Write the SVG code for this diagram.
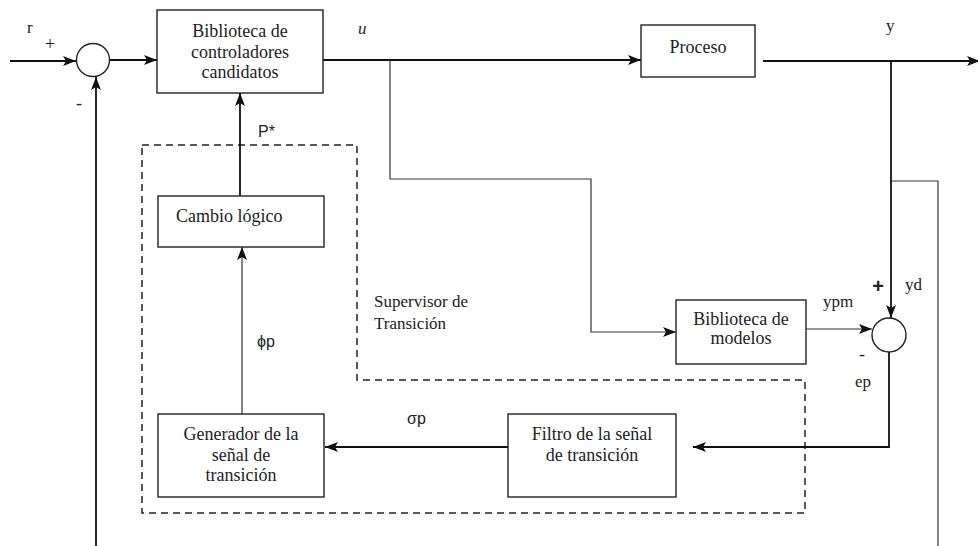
<svg xmlns="http://www.w3.org/2000/svg" width="978" height="546" viewBox="0 0 978 546">
<defs>
<marker id="ah" markerUnits="userSpaceOnUse" markerWidth="14" markerHeight="10" refX="13" refY="5" orient="auto">
<path d="M0,0 L13,5 L0,10 L3,5 Z" fill="#111"/>
</marker>
<style>
.box{fill:#fff;stroke:#222;stroke-width:1.4}
.t{font-family:"Liberation Serif","Times New Roman",serif;font-size:18px;fill:#222;text-anchor:middle}
.l{font-family:"Liberation Serif","Times New Roman",serif;font-size:17px;fill:#222}
.s{font-family:"Liberation Sans",Arial,sans-serif;font-size:16px;fill:#222}
.w{fill:none;stroke:#111;stroke-width:1.8}
.thin{fill:none;stroke:#333;stroke-width:1.2}
.a{marker-end:url(#ah)}
.dash{fill:none;stroke:#222;stroke-width:1.5;stroke-dasharray:7,5}
.sum{fill:#fff;stroke:#222;stroke-width:1.4}
</style>
</defs>
<rect width="978" height="546" fill="#fff"/>

<g id="supervisor">
<path class="dash" d="M142,145 L357,145 L357,380 L805,380 L805,513 L142,513 Z"/>
<text class="l" x="374" y="307" font-family="Liberation Serif, serif">Supervisor de</text>
<text class="l" x="374" y="329" font-family="Liberation Serif, serif">Transición</text>
</g>

<g id="connectors">
<path class="w a" d="M10,61 L76,61"/>
<path class="w a" d="M109,60 L157,60"/>
<path class="w a" d="M96,546 L96,77"/>
<path class="w a" d="M323,60 L641,60"/>
<path class="thin a" d="M390,60 L390,179 L591,179 L591,332 L676,332"/>
<path class="w a" d="M763,61 L980,61"/>
<path class="w a" d="M891,61 L891,318"/>
<path class="thin" d="M891,181 L938,181 L938,546"/>
<path class="thin a" d="M806,329 L872,329"/>
<path class="w a" d="M889,352 L889,447 L693,447"/>
<path class="w a" d="M508,447 L325,447"/>
<path class="thin a" d="M242,414 L242,247"/>
<path class="w a" d="M240,196 L240,93"/>
</g>

<g id="sum1">
<circle class="sum" cx="93" cy="60" r="16.5"/>
</g>
<g id="sum2">
<circle class="sum" cx="889" cy="335" r="17"/>
</g>

<g id="controladores" font-family="Liberation Serif, serif">
<rect class="box" x="157" y="10" width="166" height="83"/>
<text class="t" x="240" y="37">Biblioteca de</text>
<text class="t" x="240" y="58">controladores</text>
<text class="t" x="240" y="78">candidatos</text>
</g>

<g id="proceso" font-family="Liberation Serif, serif">
<rect class="box" x="641" y="25" width="114" height="52"/>
<text class="t" x="698" y="53">Proceso</text>
</g>

<g id="cambio" font-family="Liberation Serif, serif">
<rect class="box" x="158" y="196" width="166" height="51"/>
<text class="t" x="176" y="222" style="text-anchor:start">Cambio lógico</text>
</g>

<g id="modelos" font-family="Liberation Serif, serif">
<rect class="box" x="676" y="300" width="130" height="64"/>
<text class="t" x="741" y="325">Biblioteca de</text>
<text class="t" x="741" y="344">modelos</text>
</g>

<g id="filtro" font-family="Liberation Serif, serif">
<rect class="box" x="508" y="414" width="168" height="83"/>
<text class="t" x="592" y="440">Filtro de la señal</text>
<text class="t" x="592" y="461">de transición</text>
</g>

<g id="generador" font-family="Liberation Serif, serif">
<rect class="box" x="158" y="414" width="166" height="83"/>
<text class="t" x="241" y="440">Generador de la</text>
<text class="t" x="241" y="461">señal de</text>
<text class="t" x="241" y="481">transición</text>
</g>

<g id="labels">
<text class="l" x="27" y="33">r</text>
<text class="l" x="50" y="50" style="text-anchor:middle;font-size:18px">+</text>
<text class="l" x="79" y="109" style="text-anchor:middle;font-size:18px">-</text>
<text class="l" x="358" y="34" style="font-style:italic">u</text>
<text class="s" x="258" y="137">P*</text>
<text class="l" x="886" y="31">y</text>
<text class="s" x="878" y="293" style="text-anchor:middle;font-weight:bold;font-size:20px">+</text>
<text class="l" x="905" y="290">yd</text>
<text class="l" x="823" y="307">ypm</text>
<text class="l" x="862" y="360" style="text-anchor:middle;font-size:18px">-</text>
<text class="l" x="855" y="387">ep</text>
<text class="s" x="407" y="424">σp</text>
<text class="s" x="257" y="347">ϕp</text>
</g>
</svg>
